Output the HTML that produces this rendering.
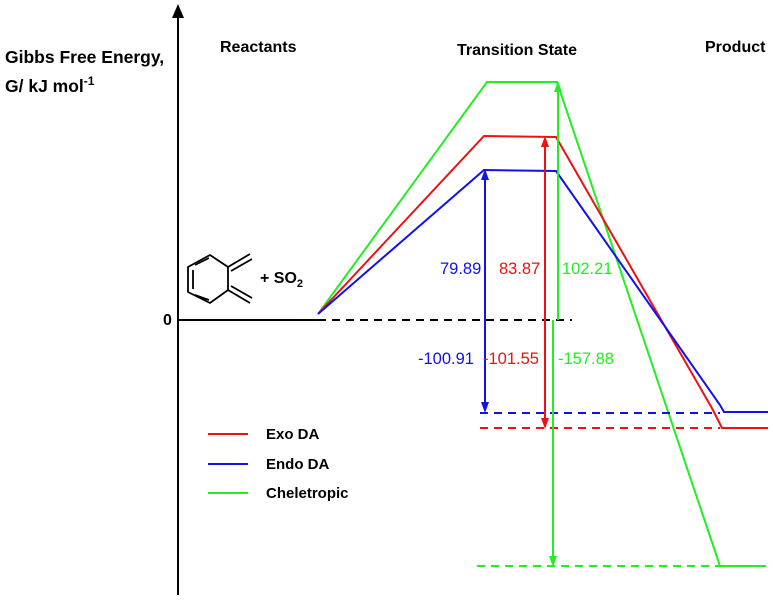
<!DOCTYPE html>
<html><head><style>body{margin:0;background:#fff}svg{display:block;font-family:"Liberation Sans",sans-serif}</style></head><body>
<svg width="773" height="600" viewBox="0 0 773 600">
<g font-weight="bold" font-size="16" fill="#000">
<text x="5" y="63" font-size="17.5">Gibbs Free Energy,</text>
<text x="5" y="92" font-size="17.5">G/ kJ mol<tspan dy="-7" font-size="12">-1</tspan></text>
<text x="220" y="52">Reactants</text>
<text x="457" y="55">Transition State</text>
<text x="705" y="52">Product</text>
<text x="163" y="325">0</text>
<text x="260" y="283" font-size="16">+ SO<tspan dy="4" font-size="11">2</tspan></text>
</g>
<line x1="178" y1="595" x2="178" y2="12" stroke="#000" stroke-width="2"/>
<path d="M172,18 L178,4 L184,18 Z" fill="#000"/>
<line x1="178" y1="320" x2="318" y2="320" stroke="#000" stroke-width="2"/>
<line x1="318" y1="320" x2="572" y2="320" stroke="#000" stroke-width="2" stroke-dasharray="8,6"/>
<g stroke="#000" stroke-width="1.8" fill="none">
<path d="M188,267 L210,255 L228,267 L228,290 L210,303 L188,292 Z"/>
<path d="M193,270 L193,289 M195,265 L209,258 M195,295 L209,300"/>
<path d="M228,267 L250,254 M231,271 L252,259"/>
<path d="M228,290 L250,303 M231,286 L252,298"/>
</g>
<g fill="none" stroke-width="2">
<path d="M318,314 L487,82 L557,82 L720,566 L766,566" stroke="#22ee22"/>
<path d="M318,314 L484,136 L556,137 L713,410 L722,428 L768,428" stroke="#ee1111"/>
<path d="M318,314 L484,170 L556,171 L720,405 L724,412 L768,412" stroke="#1111ee"/>
<line x1="477" y1="566" x2="720" y2="566" stroke="#22ee22" stroke-dasharray="8,6"/>
<line x1="480" y1="428" x2="720" y2="428" stroke="#ee1111" stroke-dasharray="8,6"/>
<line x1="480" y1="413" x2="720" y2="413" stroke="#1111ee" stroke-dasharray="8,6"/>
<line x1="485" y1="320" x2="485" y2="176" stroke="#1111ee"/>
<line x1="485" y1="320" x2="485" y2="406" stroke="#1111ee"/>
<line x1="545" y1="320" x2="545" y2="143" stroke="#ee1111"/>
<line x1="545" y1="320" x2="545" y2="422" stroke="#ee1111"/>
<line x1="558" y1="320" x2="558" y2="88" stroke="#22ee22"/>
<line x1="553" y1="320" x2="553" y2="560" stroke="#22ee22"/>
<line x1="208" y1="434" x2="248" y2="434" stroke="#ee1111"/>
<line x1="208" y1="464" x2="248" y2="464" stroke="#1111ee"/>
<line x1="208" y1="493" x2="248" y2="493" stroke="#22ee22"/>
</g>
<path d="M481,180 L485,169 L489,180 Z" fill="#1111ee"/>
<path d="M481,402 L485,413 L489,402 Z" fill="#1111ee"/>
<path d="M541,147 L545,136 L549,147 Z" fill="#ee1111"/>
<path d="M541,418 L545,429 L549,418 Z" fill="#ee1111"/>
<path d="M554,92 L558,81 L562,92 Z" fill="#22ee22"/>
<path d="M549,556 L553,567 L557,556 Z" fill="#22ee22"/>
<g font-size="16.5">
<text x="440" y="274" fill="#1111ee">79.89</text>
<text x="499" y="274" fill="#ee1111">83.87</text>
<text x="562" y="274" fill="#22ee22">102.21</text>
<text x="418" y="364" fill="#1111ee">-100.91</text>
<text x="483" y="364" fill="#ee1111">-101.55</text>
<text x="558" y="364" fill="#22ee22">-157.88</text>
</g>
<g font-size="15" font-weight="bold">
<text x="266" y="439">Exo DA</text>
<text x="266" y="469">Endo DA</text>
<text x="266" y="498">Cheletropic</text>
</g>
</svg>
</body></html>
